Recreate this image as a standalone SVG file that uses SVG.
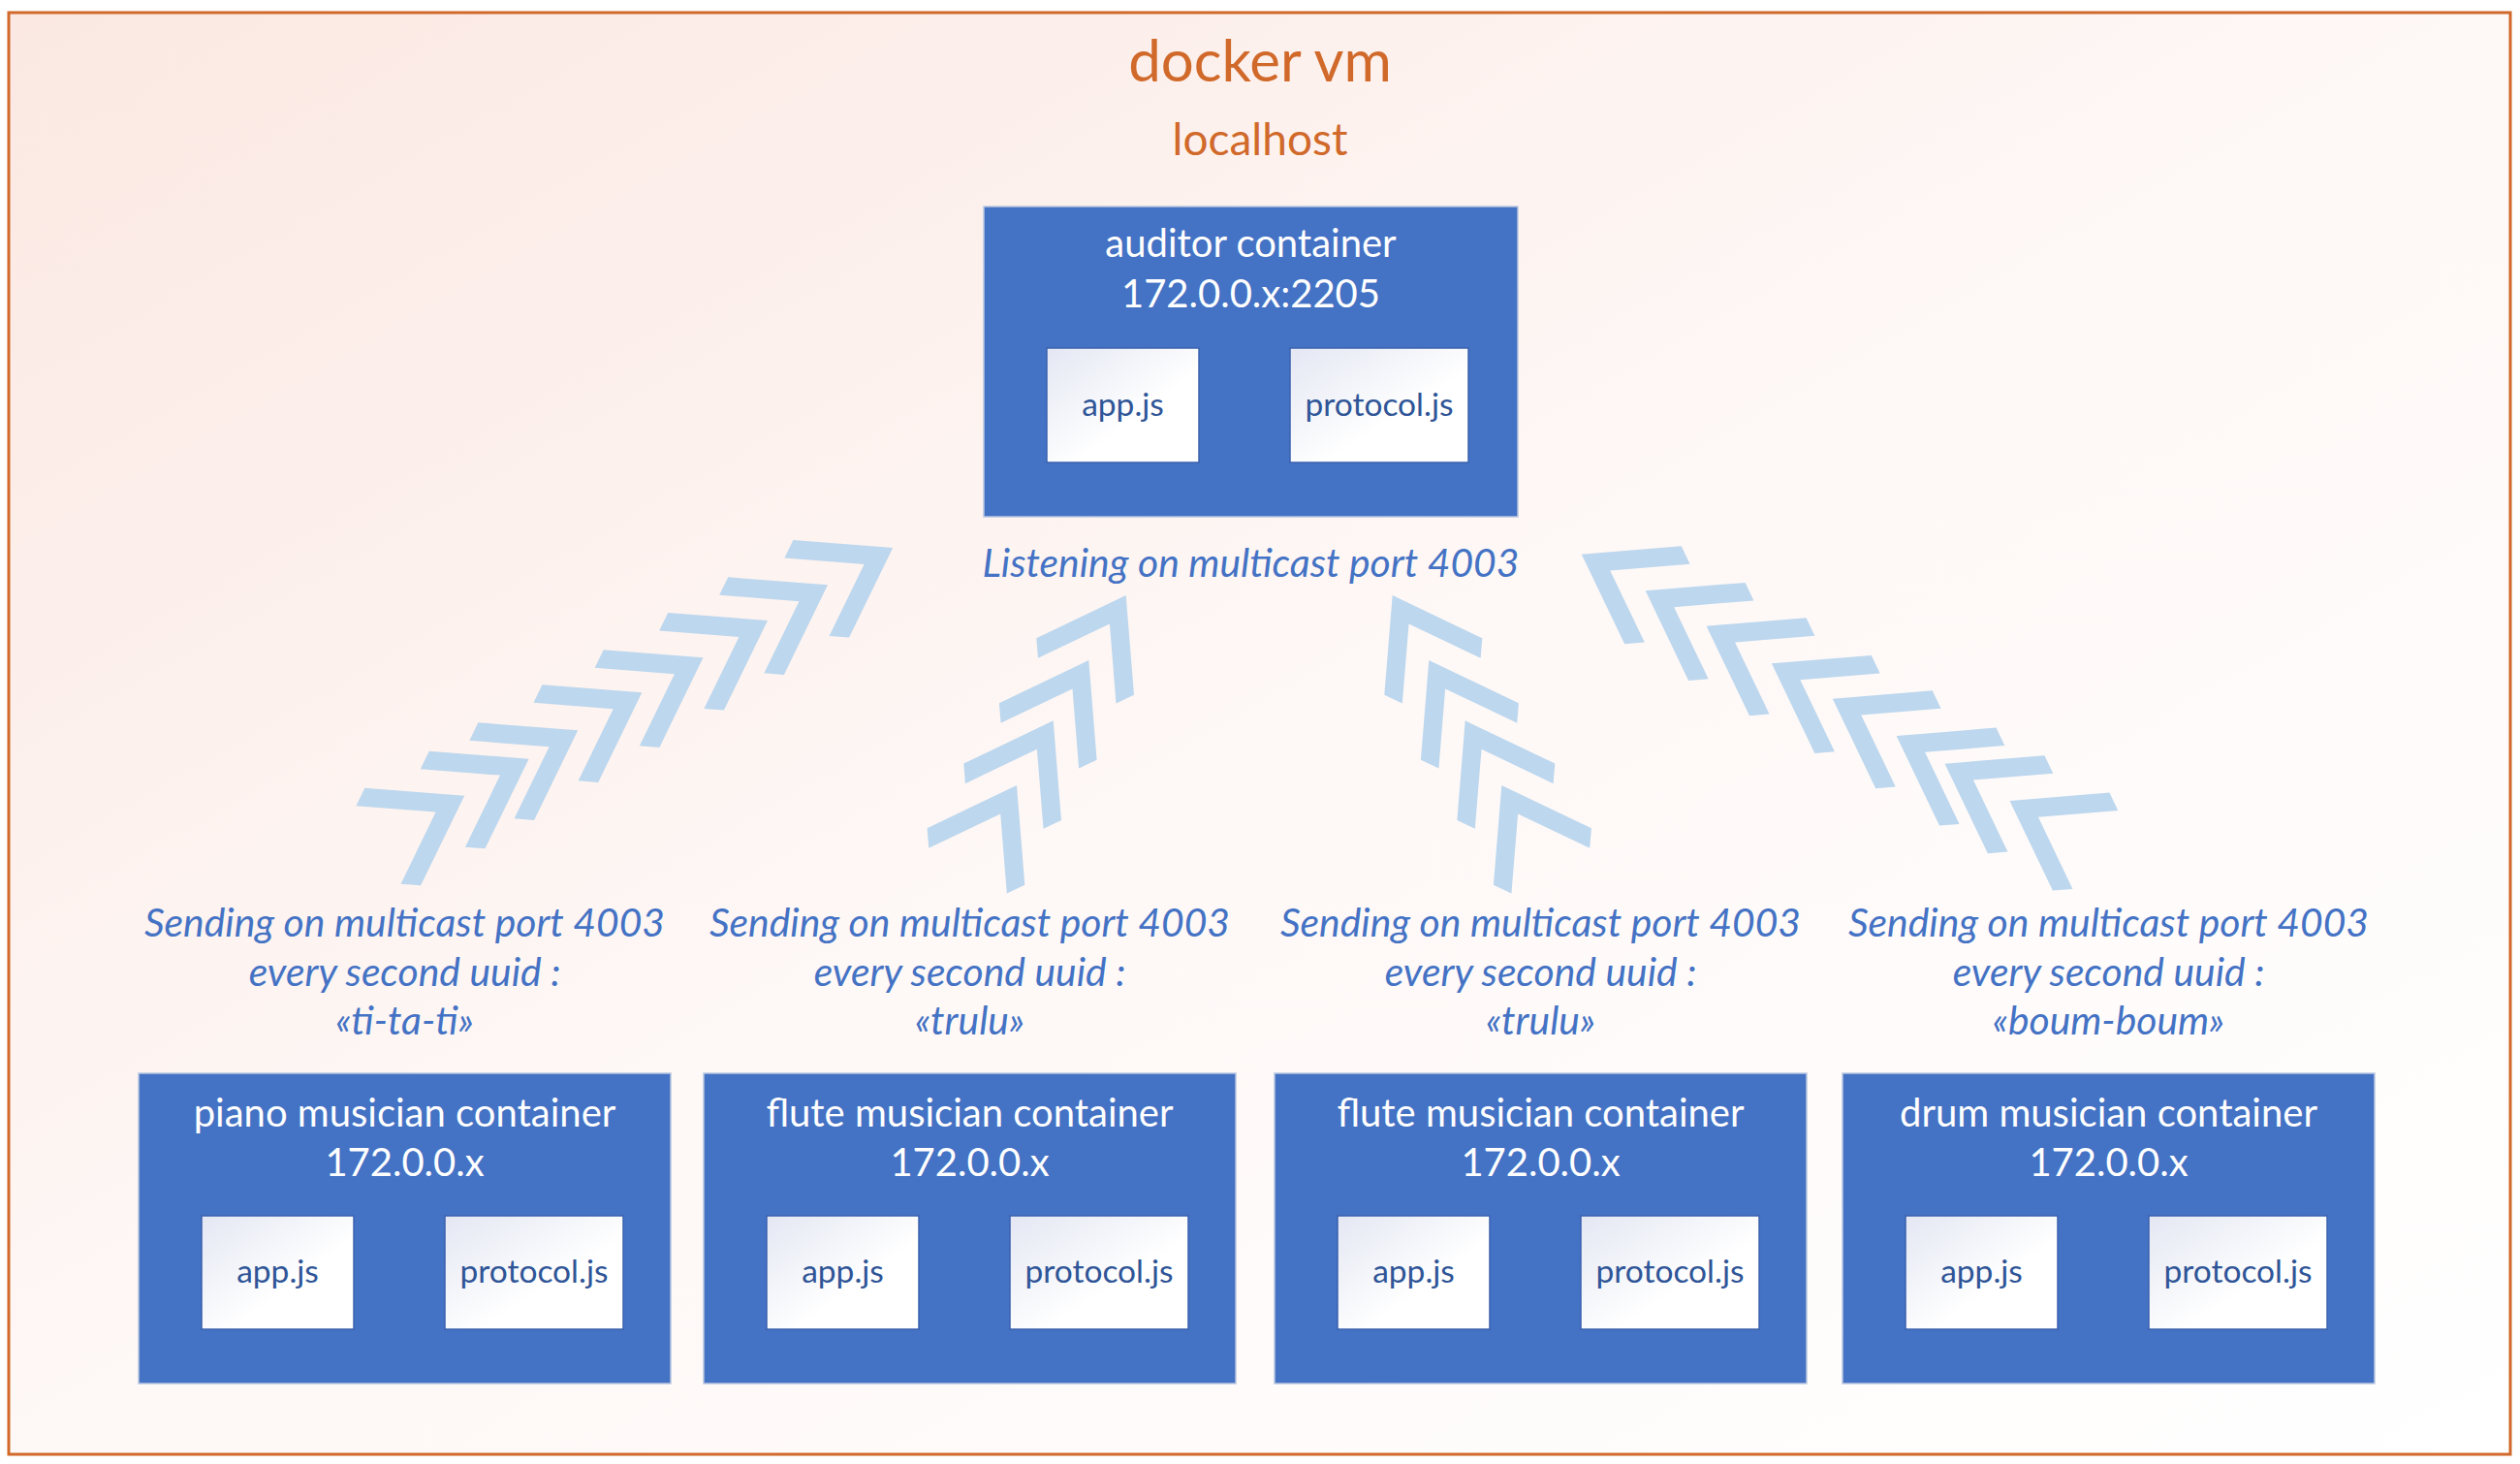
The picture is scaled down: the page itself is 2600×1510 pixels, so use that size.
<svg xmlns="http://www.w3.org/2000/svg" xmlns:xlink="http://www.w3.org/1999/xlink" width="2600" height="1510" viewBox="0 0 2600 1510">
<style>
  text { font-family: Lato, "Open Sans", "Liberation Sans", sans-serif; text-anchor: middle; }
  .title { fill: #D0692A; font-size: 60px; }
  .sub { fill: #D0692A; font-size: 46px; }
  .box { fill: #4472C4; stroke: #B9C6DF; stroke-width: 1.5; }
  .lbl { fill: #FFFFFF; font-size: 40px; }
  .file { fill: url(#fileGrad); stroke: #3A62AE; stroke-width: 1.5; }
  .ftxt { fill: #2F5597; font-size: 33.5px; }
  .note { fill: #4472C4; font-size: 40.8px; font-style: italic; }
  .chev { fill: #BDD7EE; }
</style>
<defs>
  <linearGradient id="bgGrad" x1="0" y1="0" x2="1" y2="1">
    <stop offset="0" stop-color="#FBE8E2"/>
    <stop offset="0.5" stop-color="#FEF8F6"/>
    <stop offset="1" stop-color="#FFFFFF"/>
  </linearGradient>
  <linearGradient id="fileGrad" x1="0" y1="0" x2="1" y2="1">
    <stop offset="0" stop-color="#E4E7F3"/>
    <stop offset="0.6" stop-color="#FFFFFF"/>
    <stop offset="1" stop-color="#FFFFFF"/>
  </linearGradient>
  <path id="chev" d="M0,0 L1,0 L1,0.2 L0.2,0.2 L0.2,1 L0,1 Z"/>
</defs>

<g id="vm">
  <rect x="9" y="13" width="2581" height="1487" fill="url(#bgGrad)" stroke="#D0692A" stroke-width="3"/>
  <text class="title" x="1300" y="84">docker vm</text>
  <text class="sub" x="1300" y="160">localhost</text>
</g>

<g id="connectors">
  <g id="arrows-piano" class="chev">
    <use xlink:href="#chev" transform="matrix(-102.8 -8 -45.1 92.6 479.2 820.7)"/>
    <use xlink:href="#chev" transform="matrix(-102.8 -8 -45.1 92.6 545.6 782.7)"/>
    <use xlink:href="#chev" transform="matrix(-102.8 -8 -45.1 92.6 596.2 753.3)"/>
    <use xlink:href="#chev" transform="matrix(-102.8 -8 -45.1 92.6 662.3 714.3)"/>
    <use xlink:href="#chev" transform="matrix(-102.8 -8 -45.1 92.6 725.5 678.3)"/>
    <use xlink:href="#chev" transform="matrix(-102.8 -8 -45.1 92.6 792 640)"/>
    <use xlink:href="#chev" transform="matrix(-102.8 -8 -45.1 92.6 854 603.3)"/>
    <use xlink:href="#chev" transform="matrix(-102.8 -8 -45.1 92.6 921.2 565)"/>
  </g>
  <g id="arrows-flute1" class="chev">
    <use xlink:href="#chev" transform="matrix(-92.4 44.3 8.3 102.7 1161.7 614)"/>
    <use xlink:href="#chev" transform="matrix(-92.4 44.3 8.3 102.7 1123.3 681)"/>
    <use xlink:href="#chev" transform="matrix(-92.4 44.3 8.3 102.7 1086.7 743.3)"/>
    <use xlink:href="#chev" transform="matrix(-92.4 44.3 8.3 102.7 1049 810)"/>
  </g>
  <g id="arrows-flute2" class="chev">
    <use xlink:href="#chev" transform="matrix(92.6 44.3 -8.4 102.7 1436.7 614)"/>
    <use xlink:href="#chev" transform="matrix(92.6 44.3 -8.4 102.7 1474.3 681)"/>
    <use xlink:href="#chev" transform="matrix(92.6 44.3 -8.4 102.7 1511.7 743.3)"/>
    <use xlink:href="#chev" transform="matrix(92.6 44.3 -8.4 102.7 1549.3 810)"/>
  </g>
  <g id="arrows-drum" class="chev">
    <use xlink:href="#chev" transform="matrix(102.9 -8.4 44.4 92.6 1631.8 571.7)"/>
    <use xlink:href="#chev" transform="matrix(102.9 -8.4 44.4 92.6 1697.7 609.3)"/>
    <use xlink:href="#chev" transform="matrix(102.9 -8.4 44.4 92.6 1760.6 645.7)"/>
    <use xlink:href="#chev" transform="matrix(102.9 -8.4 44.4 92.6 1827.9 684.3)"/>
    <use xlink:href="#chev" transform="matrix(102.9 -8.4 44.4 92.6 1890.8 720.7)"/>
    <use xlink:href="#chev" transform="matrix(102.9 -8.4 44.4 92.6 1956.6 759)"/>
    <use xlink:href="#chev" transform="matrix(102.9 -8.4 44.4 92.6 2006.5 787.7)"/>
    <use xlink:href="#chev" transform="matrix(102.9 -8.4 44.4 92.6 2073.5 826)"/>
  </g>
</g>

<g id="auditor">
  <rect class="box" x="1015" y="213" width="551" height="320"/>
  <text class="lbl" x="1290.5" y="265">auditor container</text>
  <text class="lbl" x="1290.5" y="317">172.0.0.x:2205</text>
  <rect class="file" x="1080" y="359" width="157" height="118"/>
  <text class="ftxt" x="1158.5" y="429">app.js</text>
  <rect class="file" x="1331" y="359" width="184" height="118"/>
  <text class="ftxt" x="1423" y="429">protocol.js</text>
  <text class="note" x="1290.5" y="595">Listening on multicast port 4003</text>
</g>

<g id="piano">
  <text class="note" x="417.5" y="966">Sending on multicast port 4003</text>
  <text class="note" x="417.5" y="1016.5">every second uuid :</text>
  <text class="note" x="417.5" y="1067">«ti-ta-ti»</text>
  <rect class="box" x="143" y="1107" width="549" height="320"/>
  <text class="lbl" x="417.5" y="1162">piano musician container</text>
  <text class="lbl" x="417.5" y="1213">172.0.0.x</text>
  <rect class="file" x="208" y="1254" width="157" height="117"/>
  <text class="ftxt" x="286.5" y="1323">app.js</text>
  <rect class="file" x="459" y="1254" width="184" height="117"/>
  <text class="ftxt" x="551" y="1323">protocol.js</text>
</g>

<g id="flute1">
  <text class="note" x="1000.5" y="966">Sending on multicast port 4003</text>
  <text class="note" x="1000.5" y="1016.5">every second uuid :</text>
  <text class="note" x="1000.5" y="1067">«trulu»</text>
  <rect class="box" x="726" y="1107" width="549" height="320"/>
  <text class="lbl" x="1000.5" y="1162">flute musician container</text>
  <text class="lbl" x="1000.5" y="1213">172.0.0.x</text>
  <rect class="file" x="791" y="1254" width="157" height="117"/>
  <text class="ftxt" x="869.5" y="1323">app.js</text>
  <rect class="file" x="1042" y="1254" width="184" height="117"/>
  <text class="ftxt" x="1134" y="1323">protocol.js</text>
</g>

<g id="flute2">
  <text class="note" x="1589.5" y="966">Sending on multicast port 4003</text>
  <text class="note" x="1589.5" y="1016.5">every second uuid :</text>
  <text class="note" x="1589.5" y="1067">«trulu»</text>
  <rect class="box" x="1315" y="1107" width="549" height="320"/>
  <text class="lbl" x="1589.5" y="1162">flute musician container</text>
  <text class="lbl" x="1589.5" y="1213">172.0.0.x</text>
  <rect class="file" x="1380" y="1254" width="157" height="117"/>
  <text class="ftxt" x="1458.5" y="1323">app.js</text>
  <rect class="file" x="1631" y="1254" width="184" height="117"/>
  <text class="ftxt" x="1723" y="1323">protocol.js</text>
</g>

<g id="drum">
  <text class="note" x="2175.5" y="966">Sending on multicast port 4003</text>
  <text class="note" x="2175.5" y="1016.5">every second uuid :</text>
  <text class="note" x="2175.5" y="1067">«boum-boum»</text>
  <rect class="box" x="1901" y="1107" width="549" height="320"/>
  <text class="lbl" x="2175.5" y="1162">drum musician container</text>
  <text class="lbl" x="2175.5" y="1213">172.0.0.x</text>
  <rect class="file" x="1966" y="1254" width="157" height="117"/>
  <text class="ftxt" x="2044.5" y="1323">app.js</text>
  <rect class="file" x="2217" y="1254" width="184" height="117"/>
  <text class="ftxt" x="2309" y="1323">protocol.js</text>
</g>
</svg>
